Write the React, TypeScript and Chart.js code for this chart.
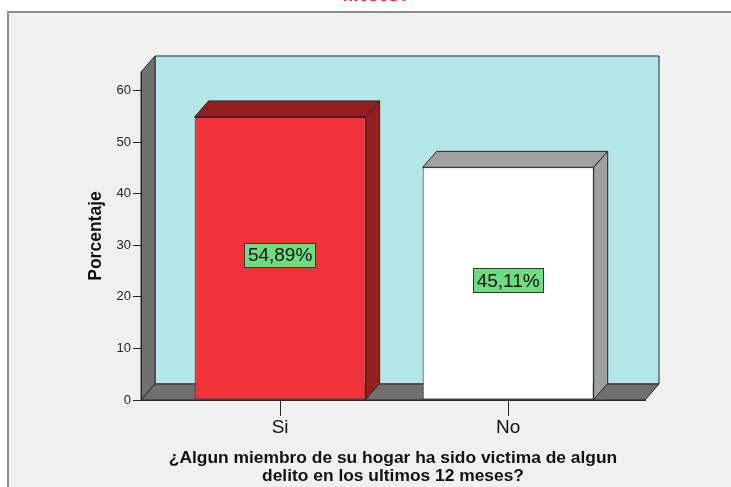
import React, { useEffect, useRef } from 'react';
import { Chart, registerables } from 'chart.js';

Chart.register(...registerables);

const categories = ['Si', 'No'];
const percentages = [54.89, 45.11];
const yTickValues = [0, 10, 20, 30, 40, 50, 60];
const yMax = 63.6;
const xAxisTitle = ['¿Algun miembro de su hogar ha sido victima de algun', 'delito en los ultimos 12 meses?'];
const yAxisTitle = 'Porcentaje';
const topTitleTail = 'meses?';
const frontColors = ['#f1323a', '#ffffff'];
const depthColors = ['#951e22', '#a0a0a0'];

const FAMILY = '"Liberation Sans", Arial, sans-serif';
const DX = 14;
const DY = -16;

function poly(ctx: CanvasRenderingContext2D, pts: number[][], fill: string, stroke = '#262626') {
  ctx.beginPath();
  pts.forEach((p, i) => (i === 0 ? ctx.moveTo(p[0], p[1]) : ctx.lineTo(p[0], p[1])));
  ctx.closePath();
  ctx.fillStyle = fill;
  ctx.fill();
  ctx.strokeStyle = stroke;
  ctx.lineWidth = 1;
  ctx.stroke();
}

const scenePlugin = {
  id: 'scene3d',
  beforeDraw(chart: any) {
    const { ctx, chartArea: a, width, height } = chart;
    ctx.save();
    ctx.fillStyle = '#ffffff';
    ctx.fillRect(0, 0, width, height);
    ctx.fillStyle = '#8c8c8c';
    ctx.fillRect(7, 11, width, height);
    ctx.fillStyle = '#f0f0f0';
    ctx.fillRect(9, 13, width, height);
    ctx.fillStyle = '#ff1f1f';
    ctx.font = 'bold 18px ' + FAMILY;
    ctx.textAlign = 'center';
    ctx.textBaseline = 'alphabetic';
    ctx.fillText(topTitleTail, 376, 0.5);
    const L = a.left, R = a.right, T = a.top, B = a.bottom;
    poly(ctx, [[L + DX, T + DY], [R + DX, T + DY], [R + DX, B + DY], [L + DX, B + DY]], '#b4e6e8');
    poly(ctx, [[L, T], [L + DX, T + DY], [L + DX, B + DY], [L, B]], '#707070');
    poly(ctx, [[L, B], [L + DX, B + DY], [R + DX, B + DY], [R, B]], '#707070');
    ctx.restore();
  },
  afterDatasetsDraw(chart: any) {
    const { ctx } = chart;
    const meta = chart.getDatasetMeta(0);
    ctx.save();
    meta.data.forEach((bar: any, i: number) => {
      const { x, y, base, width } = bar.getProps(['x', 'y', 'base', 'width'], true);
      const xl = x - width / 2;
      const xr = x + width / 2;
      poly(ctx, [[xl, y], [xl + DX, y + DY], [xr + DX, y + DY], [xr, y]], depthColors[i]);
      poly(ctx, [[xr, y], [xr + DX, y + DY], [xr + DX, base + DY], [xr, base]], depthColors[i]);
    });
    meta.data.forEach((bar: any, i: number) => {
      const { x, y, base } = bar.getProps(['x', 'y', 'base'], true);
      const text = percentages[i].toFixed(2).replace('.', ',') + '%';
      ctx.font = '19px ' + FAMILY;
      const tw = ctx.measureText(text).width;
      const cy = (y + base) / 2 - 3;
      const bw = tw + 7;
      const bh = 24;
      ctx.fillStyle = '#6fdc80';
      ctx.fillRect(Math.round(x - bw / 2) + 0.5, Math.round(cy - bh / 2) + 0.5, Math.round(bw), bh);
      ctx.strokeStyle = '#333333';
      ctx.lineWidth = 1;
      ctx.strokeRect(Math.round(x - bw / 2) + 0.5, Math.round(cy - bh / 2) + 0.5, Math.round(bw), bh);
      ctx.fillStyle = '#111111';
      ctx.textAlign = 'center';
      ctx.textBaseline = 'middle';
      ctx.fillText(text, x, cy + 1);
    });
    ctx.restore();
  },
};

export default function App() {
  const ref = useRef<HTMLCanvasElement>(null);
  useEffect(() => {
    const chart = new Chart(ref.current as HTMLCanvasElement, {
      type: 'bar',
      data: {
        datasets: [
          {
            data: categories.map((c, i) => ({ x: i + 1, y: percentages[i] })),
            backgroundColor: frontColors,
            borderColor: '#262626',
            borderWidth: 1,
            borderSkipped: false,
            barPercentage: 0.75,
            categoryPercentage: 1,
          } as any,
        ],
      },
      options: {
        responsive: false,
        animation: false,
        devicePixelRatio: 1,
        layout: { padding: { top: 72, right: 86, left: 0, bottom: 0 } },
        plugins: {
          legend: { display: false },
          tooltip: { enabled: false },
          title: { display: false },
        },
        scales: {
          x: {
            type: 'linear',
            min: 0.39,
            max: 2.6,
            offset: false,
            afterBuildTicks: (s: any) => {
              s.ticks = categories.map((_, i) => ({ value: i + 1 }));
            },
            afterFit: (s: any) => {
              s.height = 87;
            },
            grid: { offset: false, drawOnChartArea: false, drawTicks: true, tickLength: 16, color: '#262626', lineWidth: 1 },
            border: { display: true, color: '#262626' },
            ticks: {
              callback: (v: any) => categories[Number(v) - 1] ?? '',
              font: { family: FAMILY, size: 19 },
              color: '#111111',
              padding: 0,
              maxRotation: 0,
              autoSkip: false,
            },
            title: {
              display: true,
              text: xAxisTitle,
              font: { family: FAMILY, size: 17.4, weight: 'bold', lineHeight: 1 },
              color: '#111111',
              padding: { top: 0, bottom: 2.5 },
            },
          },
          y: {
            min: 0,
            max: yMax,
            afterBuildTicks: (s: any) => {
              s.ticks = yTickValues.map((v) => ({ value: v }));
            },
            afterFit: (s: any) => {
              s.width = 141;
            },
            grid: { drawOnChartArea: false, drawTicks: true, tickLength: 8, color: '#262626' },
            border: { display: true, color: '#262626' },
            ticks: { font: { family: FAMILY, size: 13 }, color: '#222222', padding: 2 },
            title: {
              display: true,
              text: yAxisTitle,
              font: { family: FAMILY, size: 17.5, weight: 'bold' },
              color: '#111111',
              padding: { top: 86, bottom: 0 },
            },
          },
        },
      } as any,
      plugins: [scenePlugin],
    });
    return () => chart.destroy();
  }, []);
  return (
    <div style={{ position: 'absolute', left: 0, top: 0, width: 731, height: 487 }}>
      <canvas ref={ref} width={731} height={487} style={{ display: 'block', width: 731, height: 487 }} />
    </div>
  );
}
